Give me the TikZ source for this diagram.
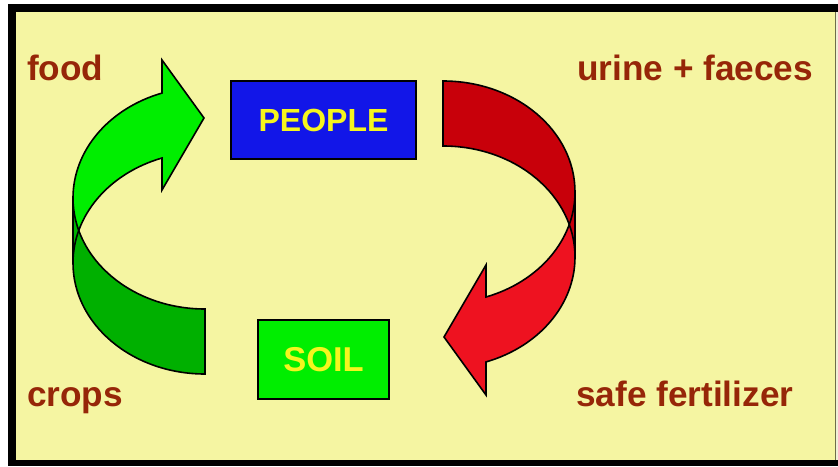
\documentclass[tikz,border=0pt]{standalone}
\usepackage{fontspec}
\setmainfont{Liberation Sans}
\definecolor{bgyel}{RGB}{245,245,162}
\definecolor{edgepale}{RGB}{240,240,215}
\definecolor{labelred}{RGB}{150,38,8}
\definecolor{boxblue}{RGB}{18,22,232}
\definecolor{boxgreen}{RGB}{0,238,0}
\definecolor{boxtext}{RGB}{245,245,30}
\definecolor{greenlight}{RGB}{0,238,0}
\definecolor{greendark}{RGB}{0,176,0}
\definecolor{redlight}{RGB}{238,18,32}
\definecolor{reddark}{RGB}{200,0,10}
\tikzset{
  lbl/.style={text=labelred, inner sep=0pt, font=\fontsize{35.2}{40}\selectfont\bfseries},
  boxnode/.style={draw=black, line width=1.5pt, inner sep=0pt, text=boxtext},
  arrowline/.style={draw=black, line width=1.6pt, line join=miter},
  ell/.style={x radius=132, y radius=111}
}
\newcommand\cyclearrow[2]{%
  % light front part with head
  \fill[#1] (73,198) arc[start angle=180, end angle=251, ell]
     -- (162,60) -- (204,118) -- (162,190) -- (162,158)
     arc[start angle=251, end angle=180, ell] -- cycle;
  % dark back part with tail
  \fill[#2] (73,263) arc[start angle=180, end angle=90, ell]
     -- (205,309) arc[start angle=90, end angle=180, ell] -- cycle;
  \draw[arrowline] (73,198) arc[start angle=180, end angle=251, ell]
     -- (162,60) -- (204,118) -- (162,190) -- (162,158)
     arc[start angle=251, end angle=180, ell] -- cycle;
  \draw[arrowline] (73,263) arc[start angle=180, end angle=90, ell]
     -- (205,309) arc[start angle=90, end angle=180, ell] -- cycle;
}
\begin{document}
\begin{tikzpicture}[x=1pt,y=-1pt]
\useasboundingbox (0,0) rectangle (838,466);
\fill[white] (0,0) rectangle (838,466);
\fill[black] (8,4) rectangle (838,466);
\fill[edgepale] (835,12) rectangle (838,460);
\fill[bgyel] (16,12) rectangle (835,460);
\draw[black!55!bgyel, line width=1pt] (835.5,12) -- (835.5,460);

% labels
\node[lbl, anchor=base west] (food) at (27,80) {food};
\node[lbl, anchor=base west] (urine) at (577,80) {urine + faeces};
\node[lbl, anchor=base west] (crops) at (27,406) {crops};
\node[lbl, anchor=base west] (fert) at (576,406) {safe fertilizer};

% boxes
\node[boxnode, fill=boxblue, minimum width=185pt, minimum height=78pt,
      font=\fontsize{32}{36}\selectfont\bfseries] (people) at (323.5,120) {PEOPLE\hspace{6pt}};
\node[boxnode, fill=boxgreen, minimum width=131pt, minimum height=79pt,
      font=\fontsize{34.5}{38}\selectfont\bfseries] (soil) at (323.5,359.5) {SOIL\hspace{2pt}};

% curved arrows
\cyclearrow{greenlight}{greendark}
\begin{scope}[rotate around={180:(324,227.5)}]
\cyclearrow{redlight}{reddark}
\end{scope}
\end{tikzpicture}
\end{document}
